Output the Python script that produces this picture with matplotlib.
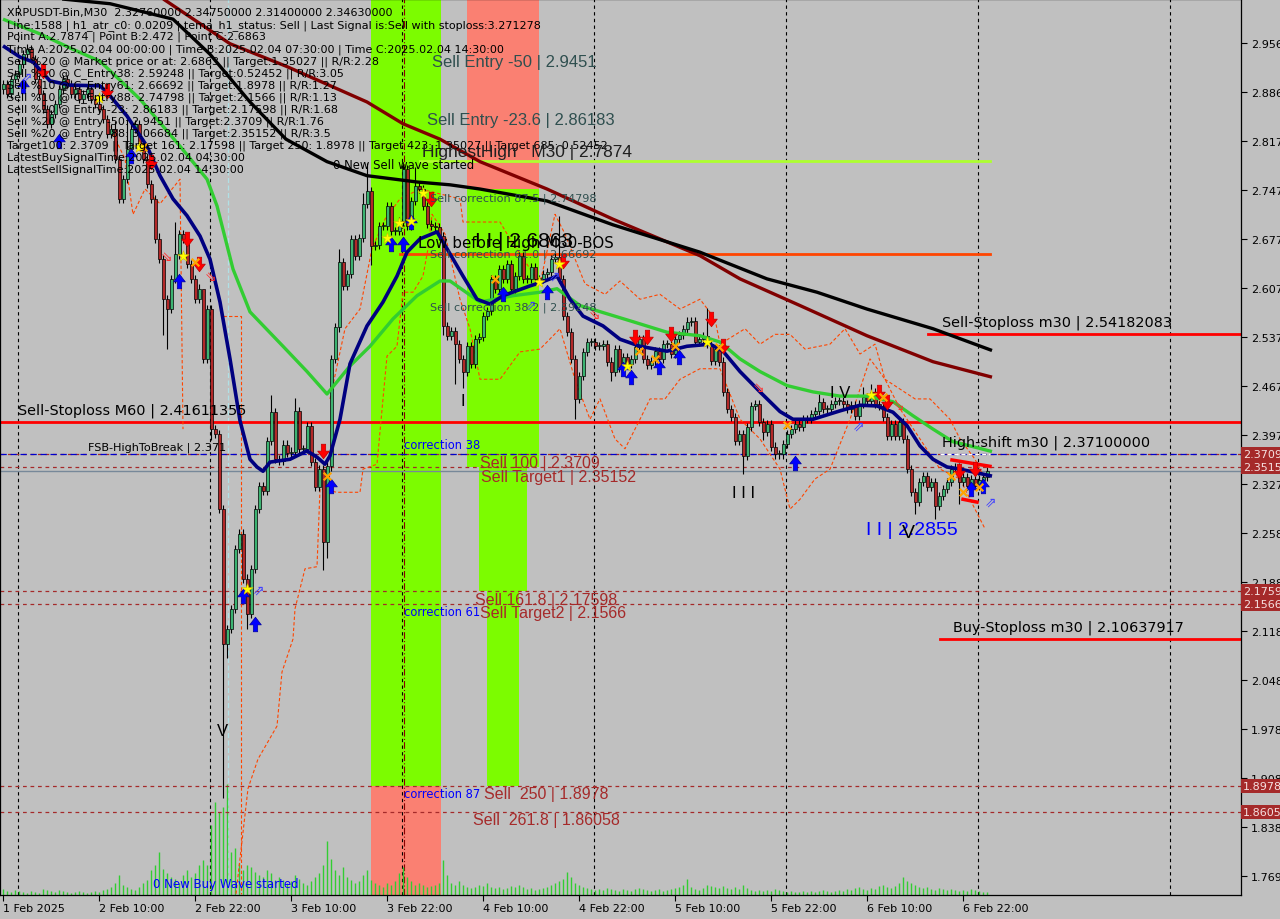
import matplotlib
matplotlib.use("Agg")
import matplotlib.pyplot as plt
from matplotlib.path import Path
from matplotlib.transforms import blended_transform_factory
import numpy as np

# ---------------- data ----------------
first_open = 2.890
closes = [
    2.898, 2.883, 2.905, 2.912, 2.926, 2.940, 2.947, 2.933, 2.905, 2.883,
    2.862, 2.841, 2.855, 2.869, 2.890, 2.905, 2.898, 2.883, 2.890, 2.876,
    2.883, 2.890, 2.876, 2.869, 2.862, 2.848, 2.826, 2.834, 2.791, 2.734,
    2.762, 2.805, 2.834, 2.841, 2.812, 2.791, 2.755, 2.734, 2.677, 2.648,
    2.591, 2.577, 2.620, 2.655, 2.684, 2.677, 2.641, 2.620, 2.591, 2.606,
    2.506, 2.577, 2.406, 2.399, 2.292, 2.100, 2.121, 2.150, 2.235, 2.257,
    2.193, 2.143, 2.207, 2.292, 2.325, 2.318, 2.389, 2.430, 2.363, 2.361,
    2.384, 2.372, 2.374, 2.432, 2.378, 2.378, 2.410, 2.359, 2.324, 2.349,
    2.245, 2.353, 2.506, 2.551, 2.644, 2.610, 2.627, 2.677, 2.653, 2.678,
    2.727, 2.745, 2.667, 2.668, 2.695, 2.695, 2.724, 2.688, 2.688, 2.702,
    2.777, 2.695, 2.731, 2.752, 2.748, 2.724, 2.698, 2.695, 2.694, 2.681,
    2.553, 2.539, 2.546, 2.527, 2.506, 2.487, 2.524, 2.499, 2.534, 2.537,
    2.567, 2.574, 2.620, 2.606, 2.634, 2.620, 2.641, 2.606, 2.624, 2.653,
    2.620, 2.620, 2.637, 2.620, 2.620, 2.627, 2.630, 2.648, 2.651, 2.620,
    2.567, 2.544, 2.506, 2.449, 2.482, 2.516, 2.530, 2.530, 2.524, 2.524,
    2.527, 2.502, 2.487, 2.520, 2.494, 2.509, 2.499, 2.506, 2.523, 2.534,
    2.506, 2.497, 2.503, 2.517, 2.506, 2.527, 2.527, 2.513, 2.534, 2.540,
    2.549, 2.559, 2.560, 2.530, 2.534, 2.539, 2.527, 2.503, 2.520, 2.502,
    2.459, 2.435, 2.423, 2.389, 2.399, 2.368, 2.409, 2.439, 2.442, 2.416,
    2.402, 2.413, 2.381, 2.370, 2.370, 2.385, 2.399, 2.406, 2.413, 2.409,
    2.420, 2.420, 2.427, 2.432, 2.445, 2.435, 2.435, 2.442, 2.446, 2.446,
    2.442, 2.435, 2.440, 2.425, 2.442, 2.452, 2.446, 2.459, 2.442, 2.439,
    2.423, 2.396, 2.413, 2.396, 2.416, 2.392, 2.349, 2.316, 2.302, 2.331,
    2.339, 2.324, 2.331, 2.297, 2.311, 2.321, 2.331, 2.349, 2.352, 2.331,
    2.338, 2.325, 2.335, 2.325, 2.334, 2.338, 2.346,
]
high_marks = {6: 2.955, 28: 2.845, 31: 2.848, 39: 2.685, 43: 2.701, 50: 2.595,
              67: 2.455, 73: 2.450, 84: 2.662, 90: 2.742, 91: 2.785, 100: 2.783,
              101: 2.782, 103: 2.780, 109: 2.700, 139: 2.710, 176: 2.578,
              204: 2.456, 215: 2.466, 217: 2.470}
low_marks = {40: 2.540, 41: 2.520, 52: 2.390, 55: 1.880, 56: 2.080, 61: 2.121,
             80: 2.205, 81: 2.222, 92: 2.640, 110: 2.540, 113: 2.470, 115: 2.465,
             143: 2.420, 152: 2.475, 185: 2.342, 190: 2.390, 228: 2.285,
             233: 2.278, 239: 2.300}
wick = 0.006

volume = [6, 4, 3, 5, 4, 3, 2, 4, 3, 2,
          6, 5, 4, 3, 5, 4, 3, 2, 3, 4,
          3, 2, 3, 4, 3, 5, 6, 8, 12, 20,
          10, 8, 6, 5, 8, 12, 15, 25, 30, 43,
          26, 22, 18, 16, 12, 20, 25, 18, 22, 30,
          35, 30, 70, 93, 83, 88, 111, 43, 47, 32,
          25, 30, 28, 23, 20, 18, 25, 22, 15, 18,
          15, 12, 14, 20, 16, 12, 10, 14, 18, 22,
          30, 54, 36, 25, 20, 28, 18, 15, 12, 14,
          20, 25, 15, 12, 10, 8, 12, 10, 14, 22,
          28, 18, 14, 10, 12, 10, 8, 9, 10, 12,
          35, 20, 12, 10, 14, 10, 8, 7, 8, 10,
          9, 12, 8, 7, 8, 6, 7, 9, 8, 10,
          8, 6, 7, 5, 6, 7, 8, 10, 12, 14,
          16, 23, 18, 12, 10, 8, 7, 6, 5, 6,
          5, 7, 6, 5, 4, 6, 5, 4, 6, 7,
          6, 5, 4, 5, 6, 4, 5, 6, 7, 8,
          10, 16, 8, 6, 5, 7, 10, 9, 8, 7,
          9, 7, 6, 8, 6, 10, 7, 5, 4, 5,
          4, 5, 4, 6, 5, 4, 3, 4, 3, 3,
          4, 3, 4, 3, 4, 5, 4, 3, 4, 5,
          4, 6, 5, 7, 8, 6, 5, 7, 6, 9,
          10, 8, 7, 9, 12, 18, 14, 12, 10, 8,
          7, 8, 6, 5, 7, 6, 5, 6, 5, 4,
          5, 4, 6, 5, 4, 3, 3]

# moving averages (bar index, price)
ma_fast_x = [0, 4.25, 7.5, 11.75, 16.75, 24.25, 26, 31, 36, 39.25, 42.5, 46, 49.25, 51.75,
             54.25, 56.75, 59.25, 61.75, 63.5, 65, 66.75, 71.75, 76, 78.5, 80.5, 81.75,
             84.25, 86.75, 91, 95, 98.5, 101, 104.25, 108.5, 111, 115, 118.5, 121.75, 125,
             131.75, 135, 138.5, 141.75, 145, 150, 154.25, 159.25, 166, 171, 176.75, 180,
             184.25, 189.25, 194.25, 197.5, 202.5, 209.25, 214.25, 218.5, 222.5, 226,
             229.25, 232.5, 236, 239.25, 242.5, 247.25]
ma_fast_y = [2.952, 2.936, 2.929, 2.902, 2.896, 2.895, 2.886, 2.852, 2.809, 2.767, 2.734,
             2.710, 2.681, 2.648, 2.587, 2.506, 2.418, 2.363, 2.352, 2.346, 2.359, 2.363,
             2.375, 2.366, 2.356, 2.368, 2.420, 2.499, 2.553, 2.587, 2.624, 2.658, 2.677,
             2.687, 2.663, 2.624, 2.591, 2.584, 2.596, 2.610, 2.616, 2.624, 2.591, 2.567,
             2.553, 2.534, 2.524, 2.517, 2.524, 2.527, 2.517, 2.488, 2.459, 2.431, 2.420,
             2.420, 2.432, 2.440, 2.439, 2.430, 2.411, 2.382, 2.363, 2.352, 2.349, 2.345,
             2.339]
ma_mid_x = [0, 9.25, 17.5, 24.25, 34.25, 44.25, 51, 53.5, 57.5, 61.75, 70, 76, 81, 86.75,
            91.75, 97.5, 103.5, 109.25, 111.75, 119.25, 127.5, 134.25, 138.5, 144.25,
            157.5, 166, 174.25, 179.25, 184.25, 189.25, 196, 202.5, 209.25, 216, 222.5,
            227.5, 232.5, 237.5, 242.5, 247.25]
ma_mid_y = [2.990, 2.969, 2.947, 2.930, 2.876, 2.809, 2.762, 2.724, 2.634, 2.573, 2.524,
            2.488, 2.456, 2.496, 2.524, 2.563, 2.596, 2.617, 2.617, 2.587, 2.596, 2.601,
            2.606, 2.582, 2.559, 2.544, 2.539, 2.530, 2.506, 2.488, 2.468, 2.459, 2.453,
            2.453, 2.445, 2.425, 2.406, 2.388, 2.381, 2.374]
ma_slow_x = [14.25, 26.75, 42.5, 51.75, 61.75, 70.75, 81, 91, 103.5, 111.75, 119.25, 136,
             152.5, 174.25, 191, 203.5, 216, 232.5, 247.25]
ma_slow_y = [3.019, 3.012, 2.990, 2.940, 2.872, 2.819, 2.787, 2.767, 2.758, 2.754, 2.748,
             2.731, 2.697, 2.658, 2.620, 2.601, 2.577, 2.549, 2.518]
ma_long_x = [40, 56.75, 70.75, 91, 100, 109.25, 119.25, 136, 152.5, 174.25, 184.25, 199.25,
             216, 232.5, 247.25]
ma_long_y = [3.019, 2.955, 2.923, 2.872, 2.841, 2.819, 2.787, 2.748, 2.705, 2.653, 2.620,
             2.582, 2.539, 2.502, 2.480]

# orange dashed envelope lines
env_up_x = [81.75, 85.5, 89.25, 92.25, 95.5, 99.25, 104.25, 109.25, 114.25, 115, 124.25,
            126.75, 134.25, 138, 140.5, 145.5, 150.5, 154.25, 159.25, 164.25, 169.25,
            174.25, 178, 179.25, 185.5, 189.25, 193, 196.75, 200.5, 206.75, 210.5, 214.25,
            218, 220.5, 224.25, 228, 231.75, 236.75, 239.25, 243, 245.5]
env_up_y = [2.449, 2.549, 2.577, 2.663, 2.705, 2.734, 2.748, 2.741, 2.734, 2.701, 2.701,
            2.677, 2.613, 2.712, 2.684, 2.613, 2.598, 2.617, 2.591, 2.598, 2.577, 2.591,
            2.563, 2.527, 2.549, 2.527, 2.541, 2.541, 2.520, 2.527, 2.549, 2.513, 2.527,
            2.477, 2.463, 2.449, 2.449, 2.420, 2.392, 2.363, 2.335]
env_lo_x = [58.25, 61.25, 63.75, 68.5, 69.75, 72.5, 73, 75.5, 78.5, 79.25, 83.5, 89.25, 90,
            93.5, 95, 96, 98.5, 100, 102.5, 105, 106.25, 107.25, 110.5, 114.25, 116.75,
            119.25, 124.25, 129.25, 134.25, 139.25, 143, 146.75, 149.25, 153, 155.5,
            159.25, 161.75, 165.5, 169.25, 174.25, 179.25, 184.25, 189.25, 194.25, 196.75,
            199.25, 203, 206.75, 211.75, 216.75, 220.5, 224.25, 229.25, 234.25, 239.25,
            243, 245.5]
env_lo_y = [1.744, 1.894, 1.936, 1.983, 2.060, 2.107, 2.150, 2.207, 2.210, 2.321, 2.316,
            2.316, 2.349, 2.356, 2.449, 2.510, 2.524, 2.601, 2.601, 2.624, 2.663, 2.712,
            2.684, 2.591, 2.549, 2.477, 2.477, 2.516, 2.520, 2.549, 2.477, 2.420, 2.449,
            2.392, 2.378, 2.420, 2.449, 2.449, 2.477, 2.492, 2.492, 2.420, 2.392, 2.349,
            2.292, 2.306, 2.335, 2.349, 2.420, 2.506, 2.477, 2.435, 2.392, 2.349, 2.335,
            2.292, 2.264]
env_early_x = [24.25, 27.25, 30.5, 32.5, 35.5, 39.25, 44.25, 45]
env_early_y = [2.869, 2.829, 2.791, 2.712, 2.748, 2.727, 2.762, 2.406]
env_drop_x = [55, 59.5, 59.5]
env_drop_y = [2.567, 2.567, 1.744]

# signals (bar index, price)
sell_arrow_x = [10, 26, 37, 46, 49, 80, 107, 140, 158, 161, 167, 177, 180, 219, 221, 239, 243]
sell_arrow_y = [2.916, 2.888, 2.787, 2.677, 2.641, 2.375, 2.734, 2.646, 2.537, 2.537, 2.541,
                2.563, 2.524, 2.459, 2.445, 2.346, 2.349]
buy_arrow_x = [5, 14, 32, 44, 60, 63, 82, 97, 100, 102, 125, 136, 155, 157, 164, 169, 198, 242, 245]
buy_arrow_y = [2.895, 2.816, 2.795, 2.617, 2.168, 2.128, 2.325, 2.670, 2.670, 2.701, 2.598,
               2.601, 2.492, 2.480, 2.494, 2.509, 2.357, 2.321, 2.325]
star_x = [24, 34, 45, 61, 96, 99, 102, 105, 134, 139, 156, 176, 217]
star_y = [2.878, 2.808, 2.653, 2.178, 2.678, 2.700, 2.702, 2.742, 2.616, 2.641, 2.496, 2.530, 2.455]
cross_x = [35, 48, 81, 123, 159, 163, 168, 179, 196, 220, 237, 240, 244]
cross_y = [2.808, 2.644, 2.339, 2.620, 2.517, 2.506, 2.524, 2.523, 2.412, 2.452, 2.339, 2.316, 2.323]
hollow_sell_x = [41, 52, 148, 189, 224]
hollow_sell_y = [2.653, 2.624, 2.570, 2.466, 2.440]
hollow_buy_x = [6, 64, 132, 138, 214, 247]
hollow_buy_y = [2.908, 2.178, 2.584, 2.624, 2.411, 2.302]

# levels
highest_high = 2.7874
low_before_high = 2.655
sell_sl_m60 = 2.41611355
sell_sl_m30 = 2.54182083
buy_sl_m30 = 2.10637917
fsb_high = 2.371
bid = 2.3463
fib_levels = [2.3709, 2.35152, 2.17598, 2.1566, 1.8978, 1.86058]
fib_tags = ["2.37090", "2.35152", "2.17598", "2.15660", "1.89780", "1.86058"]
y_ticks = [2.9567, 2.8868, 2.8170, 2.7471, 2.6772, 2.6074, 2.5375, 2.4676, 2.3978, 2.3279,
           2.2580, 2.1882, 2.1183, 2.0484, 1.9786, 1.9087, 1.8388, 1.7690]
x_tick_bars = [0, 24, 48, 72, 96, 120, 144, 168, 192, 216, 240]
x_tick_labels = ["1 Feb 2025", "2 Feb 10:00", "2 Feb 22:00", "3 Feb 10:00", "3 Feb 22:00",
                 "4 Feb 10:00", "4 Feb 22:00", "5 Feb 10:00", "5 Feb 22:00", "6 Feb 10:00",
                 "6 Feb 22:00"]
day_bars = [4, 52, 100, 148, 196, 244, 292]

header_lines = [
    "XRPUSDT-Bin,M30  2.32760000 2.34750000 2.31400000 2.34630000",
    "Line:1588 | h1_atr_c0: 0.0209 | tema_h1_status: Sell | Last Signal is:Sell with stoploss:3.271278",
    "Point A:2.7874 | Point B:2.472 | Point C:2.6863",
    "Time A:2025.02.04 00:00:00 | Time B:2025.02.04 07:30:00 | Time C:2025.02.04 14:30:00",
    "Sell %20 @ Market price or at: 2.6863 || Target:1.35027 || R/R:2.28",
    "Sell %10 @ C_Entry38: 2.59248 || Target:0.52452 || R/R:3.05",
    "Sell %10 @ C_Entry61: 2.66692 || Target:1.8978 || R/R:1.27",
    "Sell %10 @ C_Entry88: 2.74798 || Target:2.1566 || R/R:1.13",
    "Sell %10 @ Entry -23: 2.86183 || Target:2.17598 || R/R:1.68",
    "Sell %20 @ Entry -50: 2.9451 || Target:2.3709 || R/R:1.76",
    "Sell %20 @ Entry -88: 3.06684 || Target:2.35152 || R/R:3.5",
    "Target100: 2.3709 || Target 161: 2.17598 || Target 250: 1.8978 || Target 423: 1.35027 || Target 685: 0.52452",
    "LatestBuySignalTime:2025.02.04 04:30:00",
    "LatestSellSignalTime:2025.02.04 14:30:00",
]

# ---------------- figure ----------------
BG = "#C0C0C0"
W, H = 1280, 920
fig = plt.figure(figsize=(W / 100, H / 100), dpi=100, facecolor=BG)
ax = fig.add_axes([0, 24 / H, 1241 / W, 896 / H])
ax.set_facecolor(BG)
X0, X1 = -0.75, 309.5
Y0, Y1 = 1.7423, 3.0187
ax.set_xlim(X0, X1)
ax.set_ylim(Y0, Y1)


def P(xp, yp):
    """pixel position in the reference -> (bar, price) for annotations"""
    return (xp - 3) / 4.0, 2.9567 - (yp - 43.5) / 702.0


trans_xa = blended_transform_factory(ax.transData, ax.transAxes)
trans_ay = blended_transform_factory(ax.transAxes, ax.transData)

# coloured zones
GREEN, SALMON = "#7CFC00", "#FA8072"
def zone(x0, x1, y0, y1, c):
    ax.fill_between([x0, x1], [y0, y0], [y1, y1], color=c, lw=0, zorder=0.5)
zone(92, 109.5, 1.8978, Y1, GREEN)
zone(92, 109.5, Y0, 1.8978, SALMON)
zone(116, 134, 2.74798, Y1, SALMON)
zone(116, 134, 2.35152, 2.74798, GREEN)
zone(119, 131, 2.17598, 2.35152, GREEN)
zone(121, 129, 1.8978, 2.17598, GREEN)

# day separators and other verticals
for b in day_bars:
    ax.axvline(b - 0.25, color="black", lw=0.8, ls=(0, (3, 3)), zorder=1)
ax.axvline(100.25, color="#8B0000", lw=0.8, ls=(0, (6, 2, 1, 2)), zorder=1.1)
ax.axvline(56.25, color="#B0E0E6", lw=0.9, ls=(0, (4, 2)), zorder=1)

# volume
n = len(closes)
idx = np.arange(n)
ax.vlines(idx, 0, np.array(volume) / 896.0, color="#32CD32", lw=1.0,
          transform=trans_xa, zorder=1.5)

# horizontal levels
for lv in fib_levels:
    ax.axhline(lv, color="#A52A2A", lw=0.9, ls=(0, (3, 3)), zorder=2)
ax.axhline(fsb_high, color="#0000CD", lw=0.9, ls=(0, (5, 3)), zorder=2.1)
ax.axhline(bid, color="#778899", lw=1.0, zorder=2)
ax.axhline(sell_sl_m60, color="#FF0000", lw=2.0, zorder=2.5)
ax.plot([231.25, X1], [sell_sl_m30] * 2, color="#FF0000", lw=2.0, zorder=2.5)
ax.plot([234.25, X1], [buy_sl_m30] * 2, color="#FF0000", lw=2.0, zorder=2.5)
ax.plot([104.25, 246.75], [highest_high] * 2, color="#ADFF2F", lw=2.0, zorder=2.5)
ax.plot([99.25, 246.75], [low_before_high] * 2, color="#FF4500", lw=2.0, zorder=2.5)
ax.plot([234.25, 246.75], [fsb_high] * 2, color="white", lw=1.0, ls=(0, (3, 2)), zorder=2.6)

# orange envelopes
for xs, ys in [(env_up_x, env_up_y), (env_lo_x, env_lo_y), (env_early_x, env_early_y),
               (env_drop_x, env_drop_y)]:
    ax.plot(xs, ys, color="#FF4500", lw=0.8, ls=(0, (3, 2)), zorder=3)

# candles
opens = [first_open] + closes[:-1]
o = np.array(opens)
c = np.array(closes)
hi = np.array([high_marks.get(i, max(o[i], c[i]) + wick) for i in range(n)])
lo = np.array([low_marks.get(i, min(o[i], c[i]) - wick) for i in range(n)])
ax.vlines(idx, lo, hi, color="black", lw=0.8, zorder=4)
body_lo = np.minimum(o, c)
body_h = np.maximum(np.abs(c - o), 0.0015)
cols = ["#3CB371" if c[i] >= o[i] else "#B22828" for i in range(n)]
ax.bar(idx, body_h, bottom=body_lo, width=0.75, color=cols, edgecolor="black",
       linewidth=0.5, zorder=4.5)

# moving averages
ax.plot(ma_long_x, ma_long_y, color="#800000", lw=2.4, zorder=5.5, solid_capstyle="butt")
ax.plot(ma_slow_x, ma_slow_y, color="black", lw=2.4, zorder=5.6, solid_capstyle="butt")
ax.plot(ma_mid_x, ma_mid_y, color="#32CD32", lw=2.4, zorder=5.7, solid_capstyle="butt")
ax.plot(ma_fast_x, ma_fast_y, color="#000080", lw=2.6, zorder=5.8, solid_capstyle="butt")

# red bars at the end
ax.plot([237.25, 246.75], [2.362, 2.353], color="red", lw=2.5, zorder=6)
ax.plot([240, 243.5], [2.306, 2.302], color="red", lw=2.5, zorder=6)

# signal markers
down_path = Path([(-0.3, 1), (0.3, 1), (0.3, 0.05), (0.8, 0.05), (0, -1), (-0.8, 0.05),
                  (-0.3, 0.05), (-0.3, 1)],
                 [Path.MOVETO] + [Path.LINETO] * 6 + [Path.CLOSEPOLY])
up_path = Path([(x, -y) for x, y in down_path.vertices], down_path.codes)
ax.scatter(sell_arrow_x, sell_arrow_y, marker=down_path, s=110, c="#FF0000",
           edgecolors="#C00000", linewidths=0.5, zorder=7)
ax.scatter(buy_arrow_x, buy_arrow_y, marker=up_path, s=110, c="#0000FF",
           edgecolors="#0000A0", linewidths=0.5, zorder=7)
ax.scatter(star_x, star_y, marker="*", s=70, c="#FFFF00", edgecolors="#D4C000",
           linewidths=0.4, zorder=7.2)
ax.scatter(cross_x, cross_y, marker="x", s=30, c="#FFA500", linewidths=1.6, zorder=7.1)
for xs, ys, g, col in [(hollow_sell_x, hollow_sell_y, "\u21d8", "#FF3030"),
                       (hollow_buy_x, hollow_buy_y, "\u21d7", "#4040FF")]:
    for x, y in zip(xs, ys):
        ax.text(x, y, g, color=col, fontsize=10, ha="center", va="center", zorder=7,
                family="DejaVu Sans")

# ---------------- texts ----------------
def T(xp, yp, s, color="black", size=8.1, family="DejaVu Sans", ha="left", z=8):
    x, y = P(xp, yp)
    ax.text(x, y, s, color=color, fontsize=size, family=family, ha=ha, va="center",
            zorder=z)

for k, line in enumerate(header_lines):
    T(7, 13 + 12.1 * k, line, size=8.0)

SLATE = "#2F4F4F"
BROWN = "#A52A2A"
T(432, 62, "Sell Entry -50 | 2.9451", SLATE, 12, "Liberation Sans")
T(427, 120, "Sell Entry -23.6 | 2.86183", SLATE, 12, "Liberation Sans")
T(422, 152, "HighestHigh   M30 | 2.7874", "#202020", 12.5, "Liberation Sans")
T(333, 165, "0 New Sell wave started", "black", 8.4)
T(430, 199, "Sell correction 87.5 | 2.74798", SLATE, 8.1)
T(430, 255, "Sell correction 61.0 | 2.66692", SLATE, 8.1)
T(430, 308, "Sell correction 38.2 | 2.59248", SLATE, 8.1)
T(418, 243, "Low before High M30-BOS", "black", 10.8)
T(475, 241, "I I | 2.6863", "black", 15, "Liberation Sans")
T(18, 411, "Sell-Stoploss M60 | 2.41611355", "black", 10.4)
T(88, 448, "FSB-HighToBreak | 2.371", "black", 8.1)
T(404, 445, "correction 38", "#0000FF", 8.3)
T(404, 612, "correction 61", "#0000FF", 8.3)
T(404, 795, "correction 87", "#0000FF", 8.3)
T(480, 463, "Sell 100 | 2.3709", BROWN, 11.5, "Liberation Sans")
T(481, 477, "Sell Target1 | 2.35152", BROWN, 11.5, "Liberation Sans")
T(475, 600, "Sell 161.8 | 2.17598", BROWN, 11.5, "Liberation Sans")
T(480, 613, "Sell Target2 | 2.1566", BROWN, 11.5, "Liberation Sans")
T(484, 795, "Sell  250 | 1.8978", BROWN, 11.5, "Liberation Sans")
T(473, 821, "Sell  261.8 | 1.86058", BROWN, 11.5, "Liberation Sans")
T(942, 323, "Sell-Stoploss m30 | 2.54182083", "black", 10.4)
T(942, 443, "High-shift m30 | 2.37100000", "black", 10.4)
T(953, 628, "Buy-Stoploss m30 | 2.10637917", "black", 10.4)
T(866, 530, "I I | 2.2855", "#0000FF", 14, "Liberation Sans")
T(908, 533, "V", "black", 14, "Liberation Sans", ha="center")
T(744, 493, "I I I", "black", 12, "Liberation Sans", ha="center")
T(463, 401, "I", "black", 12, "Liberation Sans", ha="center")
T(840, 393, "I V", "black", 12, "Liberation Sans", ha="center")
T(222, 732, "V", "black", 12, "Liberation Sans", ha="center")
T(153, 885, "0 New Buy Wave started", "#0000FF", 8.5)

# price tags at the right axis
for lv, tag in zip(fib_levels, fib_tags):
    ax.text(1.0015, lv, tag, transform=trans_ay, color="#F5E0E0", fontsize=8,
            family="DejaVu Sans", ha="left", va="center", clip_on=False, zorder=10,
            bbox=dict(boxstyle="square,pad=0.18", fc="#A52A2A", ec="none"))

# axes styling
for sp in ax.spines.values():
    sp.set_color("black")
    sp.set_linewidth(0.9)
ax.yaxis.tick_right()
ax.set_yticks(y_ticks)
ax.set_yticklabels([f"{v:.4f}" for v in y_ticks])
ax.tick_params(axis="y", direction="out", length=4, width=0.8, pad=3, labelsize=8,
               colors="black")
ax.set_xticks(x_tick_bars)
ax.set_xticklabels(x_tick_labels)
ax.tick_params(axis="x", direction="out", length=4, width=0.8, pad=2, labelsize=8,
               colors="black")
for lbl in ax.get_xticklabels():
    lbl.set_ha("left")

fig.savefig("out.png", dpi=100, facecolor=BG)
